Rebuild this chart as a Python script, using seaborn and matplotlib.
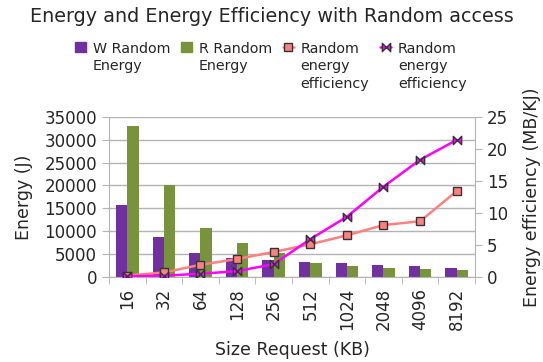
import numpy as np
import pandas as pd
import seaborn as sns
import matplotlib.pyplot as plt
from matplotlib.path import Path
from matplotlib.lines import Line2D
from matplotlib.patches import Patch

sizes = ["16", "32", "64", "128", "256", "512", "1024", "2048", "4096", "8192"]
w_energy = [15800, 8700, 5200, 4200, 3700, 3250, 2950, 2650, 2500, 2000]
r_energy = [33000, 20000, 10800, 7500, 5300, 3000, 2350, 1900, 1650, 1550]
eff_salmon = [0.2, 0.7, 1.9, 2.8, 3.9, 5.1, 6.5, 8.1, 8.7, 13.4]
eff_magenta = [0.1, 0.2, 0.5, 0.9, 2.0, 5.9, 9.4, 14.1, 18.3, 21.4]

purple = "#7030a0"
green = "#77933c"
salmon = "#ff8080"
magenta = "#ff00ff"

sns.set_style("white")
plt.rcParams['font.family'] = ['DejaVu Sans']

df = pd.DataFrame({
    "size": sizes * 2,
    "energy": w_energy + r_energy,
    "kind": ["W Random\nEnergy"] * len(sizes) + ["R Random\nEnergy"] * len(sizes),
})

fig = plt.figure(figsize=(5.43, 3.62), dpi=100)
ax = fig.add_axes([0.2007, 0.235, 0.674, 0.442])

sns.barplot(data=df, x="size", y="energy", hue="kind", order=sizes,
            palette=[purple, green], width=0.62, saturation=1, linewidth=0,
            ax=ax, legend=False)
ax.set_ylim(0, 35000)
ax.set_yticks(np.arange(0, 35001, 5000))
ax.set_xlim(-0.5, len(sizes) - 0.5)
ax.grid(axis="y", color="#b3b3b3", linewidth=1)
ax.set_axisbelow(True)
for side in ["left", "bottom", "right"]:
    ax.spines[side].set_color("#b3b3b3")
ax.spines["top"].set_visible(False)

ax.set_xticks(range(len(sizes)))
ax.set_xticklabels(sizes, rotation=90, fontsize=12)
ax.tick_params(axis="x", which="major", length=0, pad=8)
ax.set_xticks(np.arange(-0.5, len(sizes), 1), minor=True)
ax.tick_params(axis="x", which="minor", length=5, color="#b3b3b3", bottom=True)
ax.tick_params(axis="y", length=5, color="#b3b3b3", labelsize=12, left=True)
ax.set_xlabel("Size Request (KB)", fontsize=12.5, labelpad=8)
ax.set_ylabel("Energy (J)", fontsize=12.5, labelpad=8)

ax2 = ax.twinx()
bowtie = Path([(-1, -1), (-1, 1), (0, 0), (1, 1), (1, -1), (0, 0), (-1, -1)],
              [Path.MOVETO, Path.LINETO, Path.LINETO, Path.LINETO, Path.LINETO,
               Path.LINETO, Path.CLOSEPOLY])
sns.pointplot(x=sizes, y=eff_salmon, order=sizes, color=salmon, markers="s",
              linewidth=1.8, markersize=6, ax=ax2)
sns.pointplot(x=sizes, y=eff_magenta, order=sizes, color=magenta, markers=bowtie,
              linewidth=1.8, markersize=6, ax=ax2)
for ln in ax2.lines:
    ln.set_markeredgecolor("#333333")
    ln.set_markeredgewidth(1)
ax2.set_ylim(0, 25)
ax2.set_yticks(range(0, 26, 5))
ax2.set_xlim(-0.5, len(sizes) - 0.5)
ax2.tick_params(axis="y", length=5, color="#b3b3b3", labelsize=12, right=True)
ax2.set_ylabel("Energy efficiency (MB/KJ)", fontsize=12.5, labelpad=11)
for s in ax2.spines.values():
    s.set_visible(False)

fig.suptitle("Energy and Energy Efficiency with Random access", fontsize=13.8, y=0.982)

handles = [
    Patch(color=purple),
    Patch(color=green),
    Line2D([], [], color=salmon, linewidth=1.8, marker="s", markersize=6,
           markerfacecolor=salmon, markeredgecolor="#333333"),
    Line2D([], [], color=magenta, linewidth=1.8, marker=bowtie, markersize=6,
           markerfacecolor=magenta, markeredgecolor="#333333"),
]
labels = ["W Random\nEnergy", "R Random\nEnergy", "Random\nenergy\nefficiency",
          "Random\nenergy\nefficiency"]
leg = fig.legend(handles, labels, ncol=4, loc="upper left", bbox_to_anchor=(0.127, 0.9),
                 frameon=False, fontsize=10.3, handlelength=0.8, handletextpad=0.45,
                 columnspacing=0.75, borderaxespad=0)
for t in leg.get_texts():
    t.set_linespacing(1.3)
leg._legend_handle_box.align = "top"
for col in leg._legend_handle_box.get_children():
    col.align = "left"
    for item in col.get_children():
        item.align = "top"

fig.savefig("out.png", dpi=100)
